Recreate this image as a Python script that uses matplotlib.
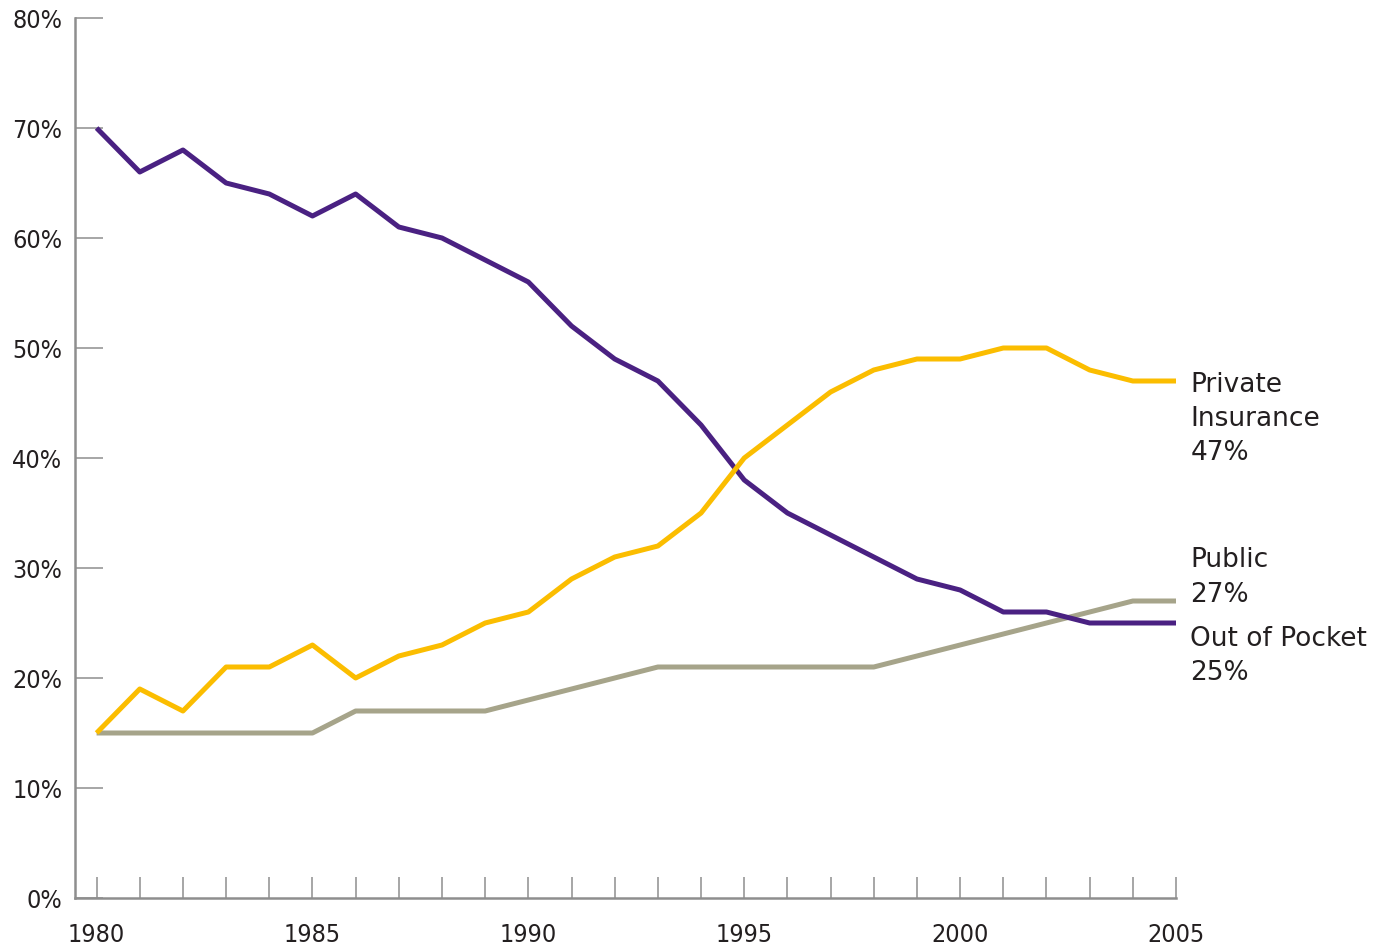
import matplotlib
matplotlib.use("Agg")
import matplotlib.pyplot as plt
from matplotlib import font_manager
from matplotlib.ticker import FixedLocator

years = list(range(1980, 2006))

out_of_pocket = [70, 66, 68, 65, 64, 62, 64, 61, 60, 58, 56, 52, 49, 47, 43,
                 38, 35, 33, 31, 29, 28, 26, 26, 25, 25, 25]
private_ins = [15, 19, 17, 21, 21, 23, 20, 22, 23, 25, 26, 29, 31, 32, 35,
               40, 43, 46, 48, 49, 49, 50, 50, 48, 47, 47]
public = [15, 15, 15, 15, 15, 15, 17, 17, 17, 17, 18, 19, 20, 21, 21,
          21, 21, 21, 21, 22, 23, 24, 25, 26, 27, 27]

y_ticks = [0, 10, 20, 30, 40, 50, 60, 70, 80]
y_labels = [f"{v}%" for v in y_ticks]
x_label_years = [1980, 1985, 1990, 1995, 2000, 2005]

PURPLE = "#4a2182"
YELLOW = "#fbbd00"
GREY = "#a6a48a"
AXIS = "#8e8e8e"
TEXT = "#231f20"


def find_condensed():
    # look for any narrow/condensed face that is installed
    cands = []
    for f in font_manager.fontManager.ttflist:
        name = (f.name + " " + f.fname).lower()
        if ("narrow" in name or "condensed" in name or f.stretch in ("condensed", 375)) \
                and f.style == "normal" and f.weight in (400, "normal", "regular") \
                and "bold" not in f.fname.lower() and "oblique" not in f.fname.lower() \
                and "italic" not in f.fname.lower():
            cands.append(f)
    if cands:
        pref = sorted(cands, key=lambda f: ("liberation" not in f.fname.lower(),
                                            "dejavu" not in f.fname.lower(), f.fname))
        return font_manager.FontProperties(fname=pref[0].fname)
    return None


cond = find_condensed()
if cond is not None:
    tick_fp = cond.copy()
    tick_fp.set_size(18)
else:
    tick_fp = font_manager.FontProperties(family="DejaVu Sans", size=16)

fig = plt.figure(figsize=(13.8, 9.48), dpi=100)
ax = fig.add_axes([75 / 1380, 1 - 898 / 948, (1176 - 75) / 1380, (898 - 18) / 948])

ax.plot(years, public, color=GREY, lw=3.6, solid_capstyle="butt", zorder=3)
ax.plot(years, out_of_pocket, color=PURPLE, lw=3.6, solid_capstyle="butt", zorder=4)
ax.plot(years, private_ins, color=YELLOW, lw=3.6, solid_capstyle="butt", zorder=5)

ax.set_xlim(1979.5, 2005)
ax.set_ylim(0, 80)

for side in ["top", "right"]:
    ax.spines[side].set_visible(False)
for side in ["left", "bottom"]:
    ax.spines[side].set_color(AXIS)
    ax.spines[side].set_linewidth(1.8)

ax.yaxis.set_major_locator(FixedLocator(y_ticks))
ax.set_yticklabels(y_labels, fontproperties=tick_fp, color=TEXT)
ax.tick_params(axis="y", direction="in", length=20, width=1.1, color=AXIS, pad=9)

ax.xaxis.set_major_locator(FixedLocator(years))
ax.set_xticklabels([str(y) if y in x_label_years else "" for y in years],
                   fontproperties=tick_fp, color=TEXT)
ax.tick_params(axis="x", direction="in", length=15, width=1.1, color=AXIS, pad=18)

# end-of-line labels
lab_x = 2005.33
lab_kw = dict(family="DejaVu Sans", fontsize=19, color=TEXT, va="top", ha="left",
              linespacing=1.42, clip_on=False)
ax.text(lab_x, private_ins[-1] + 0.85, "Private\nInsurance\n47%", **lab_kw)
ax.text(lab_x, public[-1] + 4.9, "Public\n27%", **lab_kw)
ax.text(lab_x, out_of_pocket[-1] - 0.25, "Out of Pocket\n25%", **lab_kw)

fig.savefig("out.png", dpi=100)
